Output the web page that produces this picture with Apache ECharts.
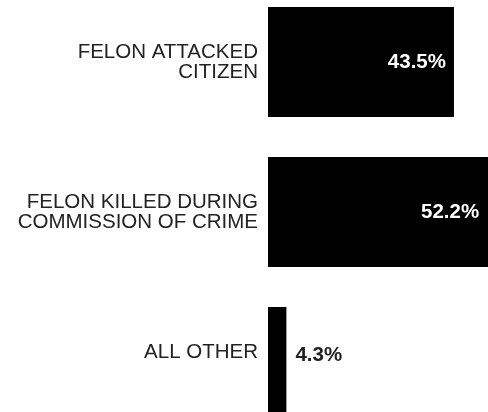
<!DOCTYPE html>
<html>
<head>
<meta charset="utf-8">
<script src="https://cdn.jsdelivr.net/npm/echarts@6/dist/echarts.min.js"></script>
<style>html,body{margin:0;padding:0;background:#fff;}#c{width:488px;height:412px;}</style>
</head>
<body>
<div id="c"></div>
<script>
const categories = ['FELON ATTACKED\nCITIZEN', 'FELON KILLED DURING\nCOMMISSION OF CRIME', 'ALL OTHER'];
const values = [43.5, 52.2, 4.3];
const valueLabels = ['43.5%', '52.2%', '4.3%'];

const chart = echarts.init(document.getElementById('c'), null, {renderer: 'canvas'});
const font = "'Liberation Sans', Arial, sans-serif";

const barData = values.map((v, i) => {
  if (v < 10) {
    return {value: v, label: {position: 'right', distance: 9, color: '#222', offset: [0, -7]}};
  }
  return {value: v, label: {position: 'insideRight', distance: i === 0 ? 8 : 12, color: '#fff'}};
});

chart.setOption({
  animation: false,
  backgroundColor: '#fff',
  grid: {left: 268, top: -13, width: 256.5, height: 450, containLabel: false, outerBoundsMode: 'none'},
  xAxis: {type: 'value', min: 0, max: 60, show: false},
  yAxis: {
    type: 'category',
    inverse: true,
    data: categories,
    axisLine: {show: false},
    axisTick: {show: false},
    splitLine: {show: false},
    axisLabel: {
      margin: 10,
      color: '#222',
      fontFamily: font,
      fontSize: 20.5,
      lineHeight: 20,
      align: 'right',
      formatter: (v, i) => (i === 2 ? v + '\n ' : v)
    }
  },
  series: [{
    type: 'bar',
    data: barData,
    barWidth: 110,
    itemStyle: {color: '#000'},
    label: {
      show: true,
      fontFamily: font,
      fontSize: 20.5,
      fontWeight: 'bold',
      formatter: p => valueLabels[p.dataIndex]
    }
  }]
});
</script>
</body>
</html>
